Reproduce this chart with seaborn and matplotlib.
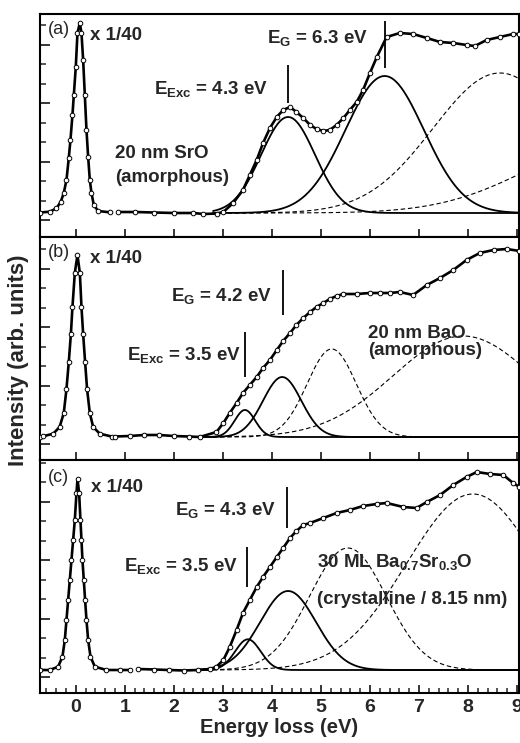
import numpy as np
import pandas as pd
import matplotlib
matplotlib.use("Agg")
import matplotlib.pyplot as plt
import seaborn as sns
from matplotlib.ticker import FixedLocator, MultipleLocator, NullFormatter

# ---------------- data ----------------
# zero-loss peaks (shown x 1/40)
zlp_a_E = [-0.73, -0.53, -0.394, -0.306, -0.245, -0.19, -0.143, -0.109, -0.068, -0.04, 0.0, 0.034, 0.082,
           0.116, 0.15, 0.184, 0.218, 0.252, 0.286, 0.32, 0.367, 0.456, 0.69]
zlp_a_I = [0.05, 0.13, 0.47, 1.13, 2.0, 3.3, 5.5, 7.3, 9.8, 11.8, 14.6, 18.0, 19.0,
           18.0, 15.3, 11.8, 8.3, 5.6, 3.3, 2.0, 0.8, 0.2, 0.07]
zlp_b_E = [-0.73, -0.67, -0.46, -0.33, -0.245, -0.19, -0.143, -0.10, -0.068, -0.02, 0.034, 0.083, 0.116,
           0.15, 0.19, 0.23, 0.286, 0.354, 0.49, 0.73]
zlp_b_I = [0.05, 0.07, 0.33, 1.0, 2.4, 4.8, 7.5, 10.3, 13.0, 16.4, 18.2, 16.4, 13.0,
           10.3, 7.5, 4.8, 2.4, 1.0, 0.33, 0.05]
zlp_c_E = [-0.73, -0.53, -0.36, -0.272, -0.224, -0.19, -0.156, -0.122, -0.088, -0.054, -0.02, 0.014, 0.035,
           0.068, 0.095, 0.116, 0.136, 0.163, 0.19, 0.218, 0.252, 0.30, 0.388, 0.626, 0.9, 1.1]
zlp_c_I = [0.0, 0.0, 0.33, 1.33, 3.0, 5.0, 7.0, 9.0, 11.0, 13.0, 15.0, 17.7, 19.1,
           17.7, 15.0, 13.0, 11.0, 9.0, 7.0, 5.0, 3.0, 1.33, 0.33, 0.0, 0.0, 0.0]

# loss spectra
loss_a_E = [0.86, 1.2, 1.6, 2.0, 2.4, 2.6, 2.88, 3.01, 3.21, 3.41, 3.55, 3.69, 3.82, 3.96, 4.10, 4.23, 4.37,
            4.50, 4.64, 4.78, 4.91, 5.05, 5.18, 5.32, 5.46, 5.59, 5.73, 5.86, 6.0, 6.14, 6.34, 6.61, 6.88,
            7.16, 7.43, 7.70, 7.97, 8.14, 8.38, 8.65, 8.92, 9.05]
loss_a_I = [0.1, 0.1, 0.05, 0.0, 0.0, -0.1, -0.05, 0.1, 1.0, 2.3, 3.8, 5.3, 7.0, 8.5, 9.6, 10.3, 10.6,
            10.1, 9.5, 8.8, 8.4, 8.2, 8.3, 8.8, 9.5, 10.3, 11.1, 12.3, 14.0, 15.6, 17.6, 18.0, 17.9,
            17.5, 17.1, 17.0, 16.8, 16.7, 17.3, 17.6, 17.9, 17.9]
loss_b_E = [0.80, 1.1, 1.4, 1.7, 2.0, 2.3, 2.53, 2.87, 3.01, 3.14, 3.28, 3.41, 3.55, 3.69, 3.82, 3.96, 4.10,
            4.23, 4.37, 4.50, 4.64, 4.78, 4.91, 5.05, 5.18, 5.32, 5.46, 5.73, 6.0, 6.2, 6.41, 6.61, 6.88,
            7.16, 7.43, 7.70, 7.97, 8.24, 8.52, 8.79, 9.05]
loss_b_I = [0.05, 0.1, 0.2, 0.2, 0.1, 0.05, 0.0, 0.5, 1.4, 2.4, 3.4, 4.4, 5.2, 6.0, 6.9, 7.7, 8.7,
            9.6, 10.4, 11.2, 11.9, 12.5, 13.0, 13.4, 13.8, 14.1, 14.3, 14.3, 14.4, 14.4, 14.4, 14.5, 14.2,
            15.2, 15.9, 16.7, 17.7, 18.4, 18.7, 18.8, 18.6]
loss_c_E = [1.27, 1.6, 1.9, 2.2, 2.5, 2.73, 2.87, 3.01, 3.14, 3.28, 3.41, 3.55, 3.69, 3.82, 3.96, 4.10,
            4.23, 4.37, 4.50, 4.64, 4.78, 5.05, 5.32, 5.59, 5.86, 6.14, 6.34, 6.68, 6.95, 7.16, 7.43,
            7.70, 7.97, 8.18, 8.45, 8.72, 8.92, 9.05]
loss_c_I = [0.1, 0.05, 0.0, -0.05, 0.0, 0.07, 0.33, 1.0, 2.3, 4.0, 5.7, 7.0, 8.3, 9.3, 10.3, 11.3,
            12.2, 13.2, 13.9, 14.5, 14.7, 15.2, 15.7, 16.0, 16.4, 16.6, 16.7, 16.3, 16.2, 16.8, 17.5,
            18.5, 19.3, 19.8, 19.6, 19.5, 18.7, 18.3]

# Gaussian fit components: centre (eV), height, width (sigma, eV)
solid_a_c = [4.33, 6.30]; solid_a_h = [9.6, 13.7]; solid_a_w = [0.55, 0.80]
dash_a_c = [8.65, 11.0]; dash_a_h = [14.0, 7.0]; dash_a_w = [1.36, 1.8]
solid_b_c = [3.45, 4.21]; solid_b_h = [2.7, 6.0]; solid_b_w = [0.21, 0.39]
dash_b_c = [5.22, 7.9]; dash_b_h = [8.8, 10.1]; dash_b_w = [0.5, 1.43]
solid_c_c = [3.51, 4.33]; solid_c_h = [3.07, 7.9]; solid_c_w = [0.26, 0.57]
dash_c_c = [5.55, 8.1]; dash_c_h = [12.2, 17.6]; dash_c_w = [0.78, 1.35]

# marker lines: (energy, from, to)
mark_a = [(4.33, 11.0, 14.8), (6.31, 14.5, 19.2)]
mark_b = [(3.45, 6.0, 10.5), (4.23, 12.2, 16.7)]
mark_c = [(3.50, 8.3, 12.3), (4.30, 14.2, 18.3)]

panel_tags = ["(a)", "(b)", "(c)"]
exc_labels = ["4.3", "3.5", "3.5"]
gap_labels = ["6.3", "4.2", "4.3"]
x_ticks = [0, 1, 2, 3, 4, 5, 6, 7, 8, 9]

# ---------------- style ----------------
sns.set_style("ticks")
plt.rcParams.update({
    "font.family": ["Liberation Sans", "DejaVu Sans"],
    "font.weight": "bold",
    "mathtext.fontset": "custom",
    "mathtext.rm": "Liberation Sans:bold",
    "mathtext.it": "Liberation Sans:bold",
    "mathtext.bf": "Liberation Sans:bold",
    "mathtext.default": "rm",
    "axes.linewidth": 1.5,
    "axes.edgecolor": "black",
    "xtick.direction": "in",
    "ytick.direction": "in",
})

fig = plt.figure(figsize=(5.2, 7.43), dpi=100)
W, H = 520.0, 743.0
left, right = 40 / W, 519 / W
panels = [(14, 237), (237, 460), (460, 693)]
ylims = [(-2.4, 19.9), (-2.3, 20.0), (-2.3, 21.0)]
axes = []
for (top, bot) in panels:
    axes.append(fig.add_axes([left, 1 - bot / H, right - left, (bot - top) / H]))

zlps = [(zlp_a_E, zlp_a_I), (zlp_b_E, zlp_b_I), (zlp_c_E, zlp_c_I)]
losses = [(loss_a_E, loss_a_I), (loss_b_E, loss_b_I), (loss_c_E, loss_c_I)]
solids = [(solid_a_c, solid_a_h, solid_a_w), (solid_b_c, solid_b_h, solid_b_w), (solid_c_c, solid_c_h, solid_c_w)]
dashes = [(dash_a_c, dash_a_h, dash_a_w), (dash_b_c, dash_b_h, dash_b_w), (dash_c_c, dash_c_h, dash_c_w)]
marks = [mark_a, mark_b, mark_c]
grid_start = [2.8, 2.5, 2.5]


def gauss(x, c, h, w):
    return h * np.exp(-(x - c) ** 2 / (2 * w ** 2))


for i, ax in enumerate(axes):
    # components
    eg = np.linspace(grid_start[i], 9.1, 400)
    for c, h, w in zip(*dashes[i]):
        sns.lineplot(x=eg, y=gauss(eg, c, h, w), ax=ax, color="black", lw=0.8,
                     linestyle=(0, (4, 2.5)), estimator=None)
    for c, h, w in zip(*solids[i]):
        sns.lineplot(x=eg, y=gauss(eg, c, h, w), ax=ax, color="black", lw=1.3, estimator=None)
    # spectra
    for E, I in (zlps[i], losses[i]):
        sns.lineplot(x=E, y=I, ax=ax, color="black", lw=1.9, estimator=None, sort=False)
        sns.scatterplot(x=E, y=I, ax=ax, marker="o", s=11, facecolor="white",
                        edgecolor="black", linewidth=0.7, zorder=5)
    # marker lines
    for e, y0, y1 in marks[i]:
        ax.vlines(e, y0, y1, color="black", lw=1.3)

    ax.set_xlim(-0.73, 9.04)
    ax.set_ylim(*ylims[i])
    ax.set_ylabel("")
    ax.set_xlabel("")
    ax.xaxis.set_major_locator(FixedLocator(x_ticks))
    ax.yaxis.set_major_locator(FixedLocator(np.arange(-0.7, 21, 3 * 1.95)))
    ax.yaxis.set_minor_locator(FixedLocator(np.arange(-0.7, 21, 1.95)))
    ax.yaxis.set_major_formatter(NullFormatter())
    ax.tick_params(axis="y", which="major", length=7, width=1.3, left=True, right=False)
    ax.tick_params(axis="y", which="minor", length=4, width=1.1, left=True, right=False)
    ax.tick_params(axis="x", which="major", length=6, width=1.3, top=False, bottom=True,
                   labelsize=14, pad=4)
    if i < 2:
        ax.tick_params(axis="x", labelbottom=False)
    else:
        ax.xaxis.set_minor_locator(MultipleLocator(0.2))
        ax.tick_params(axis="x", which="minor", length=3.5, width=1.1, top=False, bottom=True)
        ax.set_xlabel("Energy loss (eV)", fontsize=14.5, fontweight="bold", labelpad=2)
    for sp in ax.spines.values():
        sp.set_linewidth(1.5)

    # texts
    ax.text(-0.57, [18.3, 18.5, 19.3][i], panel_tags[i], fontsize=13, fontweight="normal",
            ha="left", va="center")
    ax.text([0.30, 0.30, 0.32][i], [17.7, 17.9, 18.2][i], "x 1/40", fontsize=13.5,
            fontweight="bold", ha="left", va="center")

axa, axb, axc = axes
fs = 13.5
axa.text(1.6, 12.4, r"E$_{\mathrm{Exc}}$ = " + exc_labels[0] + " eV", fontsize=fs, ha="left", va="center")
axa.text(3.9, 17.5, r"E$_{\mathrm{G}}$ = " + gap_labels[0] + " eV", fontsize=fs, ha="left", va="center")
axa.text(0.80, 6.0, "20 nm SrO", fontsize=fs, ha="left", va="center")
axa.text(0.80, 3.6, "(amorphous)", fontsize=fs, ha="left", va="center")

axb.text(1.05, 8.2, r"E$_{\mathrm{Exc}}$ = " + exc_labels[1] + " eV", fontsize=fs, ha="left", va="center")
axb.text(1.94, 14.1, r"E$_{\mathrm{G}}$ = " + gap_labels[1] + " eV", fontsize=fs, ha="left", va="center")
axb.text(5.97, 10.4, "20 nm BaO", fontsize=fs, ha="left", va="center")
axb.text(5.97, 8.7, "(amorphous)", fontsize=fs, ha="left", va="center")

axc.text(0.98, 10.4, r"E$_{\mathrm{Exc}}$ = " + exc_labels[2] + " eV", fontsize=fs, ha="left", va="center")
axc.text(2.03, 16.0, r"E$_{\mathrm{G}}$ = " + gap_labels[2] + " eV", fontsize=fs, ha="left", va="center")
axc.text(4.93, 10.8, r"30 ML Ba$_{0.7}$Sr$_{0.3}$O", fontsize=fs, ha="left", va="center")
axc.text(4.93, 7.1, "(crystalline / 8.15 nm)", fontsize=fs, ha="left", va="center")

fig.text(19 / W, 1 - 360 / H, "Intensity (arb. units)", rotation=90, fontsize=16,
         fontweight="bold", ha="center", va="center")

fig.savefig("out.png", dpi=100)
